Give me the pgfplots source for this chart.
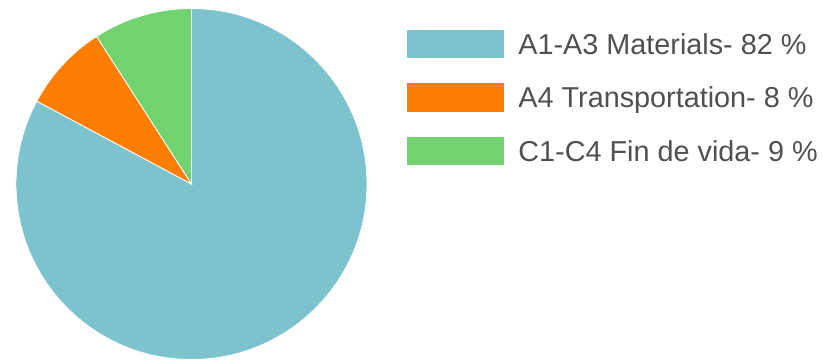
\documentclass[border=0pt]{standalone}
\usepackage{pgfplots}
\pgfplotsset{compat=1.18}
\usepackage{pgfplotstable}
\usepackage{fontspec}
\setmainfont{Liberation Sans}

\definecolor{matblue}{HTML}{7DC3CE}
\definecolor{traorange}{HTML}{FF7D00}
\definecolor{fingreen}{HTML}{70D370}
\definecolor{legtext}{HTML}{505050}

% shares of each stage, in %
\pgfplotstableread{
value
82
8
9
}\piedata

\begin{document}
\begin{tikzpicture}
\pgfplotstablegetelem{0}{value}\of\piedata \let\va\pgfplotsretval
\pgfplotstablegetelem{1}{value}\of\piedata \let\vb\pgfplotsretval
\pgfplotstablegetelem{2}{value}\of\piedata \let\vc\pgfplotsretval
\pgfmathsetmacro\total{\va+\vb+\vc}
% slices run clockwise from 12 o'clock
\pgfmathsetmacro\aA{90}
\pgfmathsetmacro\aB{\aA-360*(\va/\total)}
\pgfmathsetmacro\aC{\aB-360*(\vb/\total)}
\pgfmathsetmacro\aD{\aC-360*(\vc/\total)}
\def\rad{87.75pt}
\begin{axis}[
    x=0.5pt, y=0.5pt,
    xmin=0, xmax=823,
    ymin=0, ymax=360,
    hide axis,
    clip=false,
]
% keep the whole canvas
\path (axis cs:0,0) rectangle (axis cs:823,360);

\filldraw[fill=matblue, draw=white, line width=0.4pt]
    (axis cs:191.5,176) -- ++(\aA:\rad) arc[start angle=\aA, end angle=\aB, radius=\rad] -- cycle;
\filldraw[fill=traorange, draw=white, line width=0.4pt]
    (axis cs:191.5,176) -- ++(\aB:\rad) arc[start angle=\aB, end angle=\aC, radius=\rad] -- cycle;
\filldraw[fill=fingreen, draw=white, line width=0.4pt]
    (axis cs:191.5,176) -- ++(\aC:\rad) arc[start angle=\aC, end angle=\aD, radius=\rad] -- cycle;

% legend
\fill[matblue]   (axis cs:407,302) rectangle (axis cs:504,330);
\fill[traorange] (axis cs:407,248) rectangle (axis cs:504,277);
\fill[fingreen]  (axis cs:407,195) rectangle (axis cs:504,223);
\begin{scope}[every node/.style={anchor=base west, inner sep=0pt, text=legtext,
    font=\fontsize{14.4}{17}\selectfont}]
\node at (axis cs:518,306) {A1-A3 Materials- \va\ \%};
\node at (axis cs:518,252.5) {A4 Transportation- \vb\ \%};
\node at (axis cs:518,199) {C1-C4 Fin de vida- \vc\ \%};
\end{scope}
\end{axis}
\end{tikzpicture}
\end{document}
